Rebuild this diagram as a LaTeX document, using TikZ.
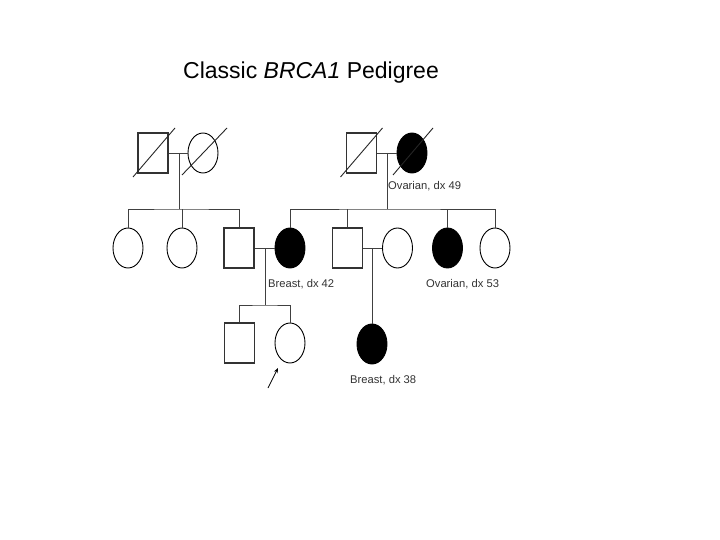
\documentclass[tikz,border=0pt]{standalone}
\usepackage{fontspec}
\setmainfont{Liberation Sans}
\usetikzlibrary{shapes.geometric,arrows.meta,calc}
\begin{document}
\begin{tikzpicture}[x=1pt,y=-1pt,
 male/.style={draw=black!80, rectangle, minimum width=30pt, minimum height=40pt, inner sep=0pt, line width=1.1pt},
 female/.style={draw, ellipse, minimum width=30pt, minimum height=40pt, inner sep=0pt, line width=0.9pt},
 affected/.style={female, fill=black},
 rel/.style={line width=0.9pt, draw=black!75},
 dead/.style={line width=0.9pt, draw=black!85},
 lbl/.style={font=\fontsize{11.2}{13}\selectfont, text=black!80, anchor=west, inner sep=0pt}]
\useasboundingbox[fill=white] (0,0) rectangle (720,540);
\node (title) at (311,73) {\fontsize{23}{26}\selectfont Classic \textit{BRCA1} Pedigree};
% Generation I
\node[male] (i1) at (153,153) {};
\node[female] (i2) at (203,153) {};
\node[male] (i3) at (361.5,153) {};
\node[affected] (i4) at (412,153) {};
\draw[dead] ($(i1)+(-20,24)$) -- ($(i1)+(22,-25)$);
\draw[dead] ($(i2)+(-21,22)$) -- ($(i2)+(24,-25)$);
\draw[dead] ($(i3)+(-21,24)$) -- ($(i3)+(21,-25)$);
\draw[dead] ($(i4)+(-19,22)$) -- ($(i4)+(21,-25)$);
\node[lbl] (l1) at (388,186) {Ovarian, dx 49};
\draw[rel] (i1.east) -- (i2.west);
\draw[rel] (i3.east) -- (i4.west);
\coordinate (m1) at (179,153);
\coordinate (s1) at (179,209);
\coordinate (m2) at (387,153);
\coordinate (s2) at (387,209);
\draw[rel] (m1) -- (s1);
\draw[rel] (m2) -- (s2);
% Generation II
\node[female] (ii1) at (128,248) {};
\node[female] (ii2) at (182,248) {};
\node[male] (ii3) at (239,248) {};
\node[affected] (ii4) at (290,248) {};
\node[male] (ii5) at (347.5,248) {};
\node[female] (ii6) at (397.5,248) {};
\node[affected] (ii7) at (447.5,248) {};
\node[female] (ii8) at (495,248) {};
\draw[rel] (ii1.north) |- (s1) -| (ii3.north);
\draw[rel] (ii2.north) -- (ii2.north |- s1);
\draw[rel] (ii4.north) |- (s2) -| (ii8.north);
\draw[rel] (ii5.north) -- (ii5.north |- s2);
\draw[rel] (ii7.north) -- (ii7.north |- s2);
\draw[rel] (ii3.east) -- (ii4.west);
\draw[rel] (ii5.east) -- (ii6.west);
\node[lbl] (l2) at (268,284) {Breast, dx 42};
\node[lbl] (l3) at (426,284) {Ovarian, dx 53};
\coordinate (m3) at (265,248);
\coordinate (s3) at (265,305);
\coordinate (m4) at (372,248);
\draw[rel] (m3) -- (s3);
% Generation III
\node[male] (iii1) at (239.5,343) {};
\node[female] (iii2) at (290,343) {};
\node[affected] (iii3) at (372,344) {};
\draw[rel] (iii1.north) |- (s3) -| (iii2.north);
\draw[rel] (m4) -- (iii3.north);
\node[lbl] (l4) at (350,380) {Breast, dx 38};
\coordinate (pb) at (268,388);
\draw[line width=0.8pt, -{Stealth[length=5pt,width=4pt]}] (pb) -- ($(iii2)+(-12,25)$);
\end{tikzpicture}
\end{document}
